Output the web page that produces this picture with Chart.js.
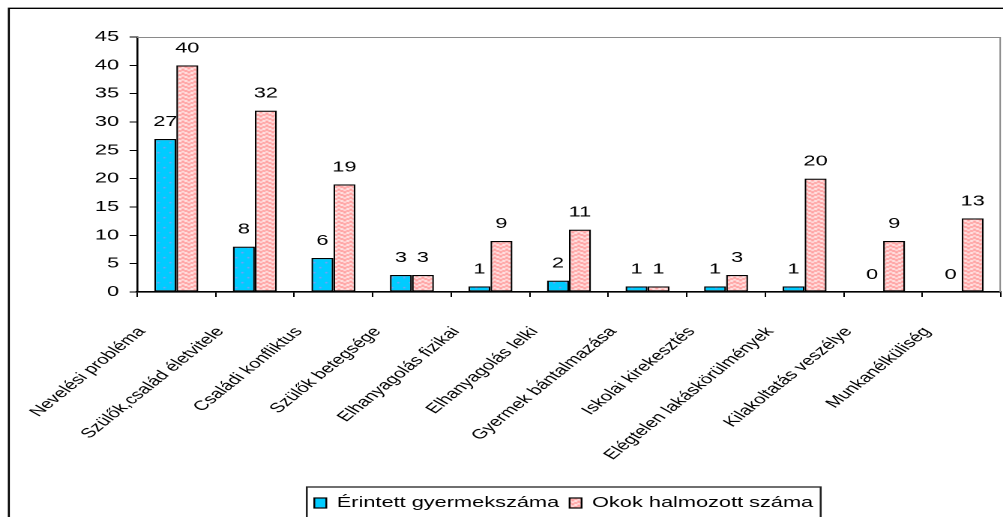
<!DOCTYPE html>
<html><head><meta charset="utf-8">
<script src="https://cdn.jsdelivr.net/npm/chart.js@4.4.1/dist/chart.umd.min.js"></script>
<style>
html,body{margin:0;padding:0;background:#fff;overflow:hidden;width:1003px;height:517px}
#wrap{position:absolute;left:0;top:0;width:669px;height:517px;transform:scaleX(1.4993);transform-origin:0 0}
</style></head><body>
<div id="wrap"><canvas id="c" width="669" height="517"></canvas></div>
<script>
const categories = ['Nevelési probléma','Szülők,család életvitele','Családi konfliktus','Szülők betegsége','Elhanyagolás fizikai','Elhanyagolás lelki','Gyermek bántalmazása','Iskolai kirekesztés','Elégtelen lakáskörülmények','Kilakoltatás veszélye','Munkanélküliség'];
const erintett = [27, 8, 6, 3, 1, 2, 1, 1, 1, 0, 0];
const okok = [40, 32, 19, 3, 9, 11, 1, 3, 20, 9, 13];
const seriesNames = ['Érintett gyermekszáma', 'Okok halmozott száma'];
const yTicks = [0, 5, 10, 15, 20, 25, 30, 35, 40, 45];

const FONT = "'Liberation Sans', Arial, sans-serif";

function makeBluePattern() {
  const t = document.createElement('canvas'); t.width = 8; t.height = 10;
  const g = t.getContext('2d');
  g.fillStyle = '#00CCFF'; g.fillRect(0, 0, 8, 10);
  g.fillStyle = '#A890F4';
  g.fillRect(1, 2, 1.3, 1.3); g.fillRect(5, 7, 1.3, 1.3);
  return g.createPattern(t, 'repeat');
}
function makePinkPattern() {
  const t = document.createElement('canvas'); t.width = 8; t.height = 8;
  const g = t.getContext('2d');
  g.fillStyle = '#FFFFFF'; g.fillRect(0, 0, 8, 8);
  g.strokeStyle = '#FF9999'; g.lineWidth = 1.4;
  for (const oy of [-8, -4, 0, 4, 8]) {
    g.beginPath(); g.moveTo(0, oy + 4); g.lineTo(2, oy + 1); g.lineTo(4, oy + 4); g.stroke();
    g.beginPath(); g.moveTo(4, oy + 2); g.lineTo(6, oy + 5); g.lineTo(8, oy + 2); g.stroke();
  }
  return g.createPattern(t, 'repeat');
}
const bluePat = makeBluePattern();
const pinkPat = makePinkPattern();

const framePlugin = {
  id: 'frame',
  beforeDraw(chart) {
    const c = chart.ctx;
    c.save();
    c.fillStyle = '#fff'; c.fillRect(0, 0, chart.width, chart.height);
    c.strokeStyle = '#000'; c.lineWidth = 1.3;
    c.beginPath(); c.moveTo(5.9, chart.height + 5); c.lineTo(5.9, 8.3); c.lineTo(chart.width + 5, 8.3); c.stroke();
    c.restore();
  },
  beforeDatasetsDraw(chart) {
    const a = chart.chartArea, c = chart.ctx;
    c.save(); c.strokeStyle = '#8a8a8a'; c.lineWidth = 1;
    c.beginPath(); c.moveTo(a.left, a.top + 0.5); c.lineTo(a.right - 0.5, a.top + 0.5); c.lineTo(a.right - 0.5, a.bottom); c.stroke();
    c.restore();
  }
};

const valueLabels = {
  id: 'valueLabels',
  afterDatasetsDraw(chart) {
    const c = chart.ctx;
    c.save();
    c.font = '14.5px ' + FONT; c.fillStyle = '#000'; c.textAlign = 'center'; c.textBaseline = 'alphabetic';
    chart.data.datasets.forEach((ds, i) => {
      chart.getDatasetMeta(i).data.forEach((bar, j) => {
        c.fillText(String(ds.data[j]), bar.x, bar.y - 13);
      });
    });
    c.restore();
  }
};

const boxedLegend = {
  id: 'boxedLegend',
  afterDraw(chart) {
    const c = chart.ctx, a = chart.chartArea;
    const ds = chart.data.datasets;
    c.save();
    c.font = '14.5px ' + FONT;
    const markW = 8, markH = 10, gapT = 7, gapI = 7, pad = 5;
    const widths = ds.map(d => markW + gapT + c.measureText(d.label).width);
    const content = widths.reduce((s, w) => s + w, 0) + gapI * (ds.length - 1);
    const boxW = content + 2 * pad;
    const left = (a.left + a.right) / 2 - boxW / 2 - 3.5;
    const top = 487, cy = 503;
    c.strokeStyle = '#222'; c.lineWidth = 1.3;
    c.strokeRect(left, top, boxW, 60);
    let x = left + pad;
    ds.forEach((d, i) => {
      c.fillStyle = d.backgroundColor;
      c.fillRect(x, cy - markH / 2, markW, markH);
      c.strokeStyle = '#000'; c.lineWidth = 1.2;
      c.strokeRect(x, cy - markH / 2, markW, markH);
      c.fillStyle = '#000'; c.textAlign = 'left'; c.textBaseline = 'middle';
      c.fillText(d.label, x + markW + gapT, cy);
      x += widths[i] + gapI;
    });
    c.restore();
  }
};

new Chart(document.getElementById('c'), {
  type: 'bar',
  data: {
    labels: categories,
    datasets: [
      { label: seriesNames[0], data: erintett, backgroundColor: bluePat, borderColor: '#000', borderWidth: 1.2, borderSkipped: false, categoryPercentage: 0.56, barPercentage: 1 },
      { label: seriesNames[1], data: okok, backgroundColor: pinkPat, borderColor: '#000', borderWidth: 1.2, borderSkipped: false, categoryPercentage: 0.56, barPercentage: 1 }
    ]
  },
  options: {
    responsive: false,
    animation: false,
    devicePixelRatio: 2,
    layout: { padding: { left: 0, top: 37, right: 1.4, bottom: 25 } },
    plugins: { legend: { display: false }, tooltip: { enabled: false } },
    scales: {
      x: {
        grid: { display: true, drawOnChartArea: false, drawTicks: true, tickLength: 5, color: '#000', lineWidth: 1 },
        border: { display: true, color: '#000', width: 1.6 },
        ticks: { autoSkip: false, minRotation: 50, maxRotation: 50, labelOffset: -23, padding: 27, color: '#000', font: { family: FONT, size: 13.5 } },
        afterFit(s) { s.height = 200; s.paddingLeft = 0; s.paddingRight = 0; }
      },
      y: {
        min: yTicks[0], max: yTicks[yTicks.length - 1],
        afterBuildTicks(s) { s.ticks = yTicks.map(v => ({ value: v })); },
        grid: { display: true, drawOnChartArea: false, drawTicks: true, tickLength: 5, color: '#000', lineWidth: 1 },
        border: { display: true, color: '#000', width: 1.3 },
        ticks: { padding: 7, color: '#000', font: { family: FONT, size: 14.5 } },
        afterFit(s) { s.width = 91.4; }
      }
    }
  },
  plugins: [framePlugin, valueLabels, boxedLegend]
});
</script>
</body></html>
